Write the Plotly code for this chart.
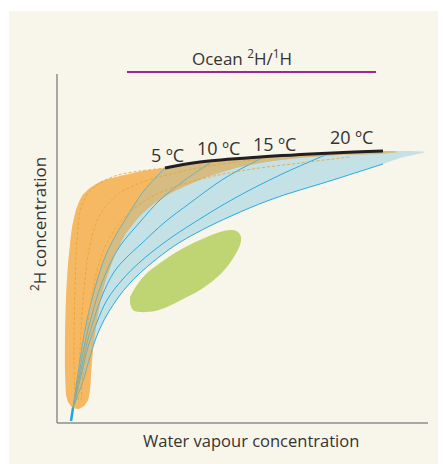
import plotly.graph_objects as go

# ---- schematic data (arbitrary units: x = water vapour, y = 2H concentration) ----
temp_labels = ["5 ºC", "10 ºC", "15 ºC", "20 ºC"]
temp_x = [110, 161, 217, 294]
temp_y = [268, 275, 279, 286]

black_x = [108, 143, 203, 276, 326]
black_y = [255, 261, 266, 270, 272]

ocean_x = [70, 319]
ocean_y = [351, 351]

b1_x = [16, 20, 25, 30, 38, 46, 56, 68, 86, 108]
b1_y = [15, 43, 76, 103, 135, 161, 183, 203, 231, 255]
b2_x = [16, 21, 27, 33, 41, 51, 63, 83, 103, 128, 153]
b2_y = [15, 43, 76, 101, 129, 155, 177, 201, 223, 243, 260]
b3_x = [16, 22, 29, 36, 45, 57, 69, 83, 108, 133, 168, 205]
b3_y = [15, 43, 76, 101, 127, 151, 165, 178, 201, 220, 245, 265]
b4_x = [16, 23, 31, 40, 50, 65, 83, 108, 138, 178, 223, 273]
b4_y = [15, 43, 76, 101, 123, 143, 161, 181, 201, 225, 248, 270]
b5_x = [16, 21, 27, 33, 39, 51, 73, 110, 143, 210, 276, 326]
b5_y = [15, 28, 45, 66, 85, 110, 140, 172, 192, 222, 243, 259]

tip_x = [350, 368, 343]
tip_y = [272, 271, 265]

orange_x = [9, 8, 8, 9, 11, 13, 15, 19, 25, 33, 45, 63, 86, 108, 143, 203, 276, 326, 336, 340,
            323, 283, 243, 216, 183, 150, 116, 98, 83, 68, 56, 46, 40, 36, 34, 33, 31, 27, 21, 15, 11]
orange_y = [28, 53, 83, 123, 158, 178, 195, 213, 227, 235, 242, 247, 252, 255, 261, 266, 270, 272, 272, 271,
            269, 268, 265, 262, 256, 246, 231, 220, 207, 188, 163, 133, 103, 73, 48, 33, 23, 17, 14, 16, 21]

o1_x = [18, 17, 18, 20, 25, 36, 58, 83, 108]
o1_y = [23, 73, 133, 183, 218, 235, 247, 252, 255]
o2_x = [21, 23, 27, 33, 43, 60, 83, 113, 153, 203]
o2_y = [23, 73, 133, 178, 208, 228, 240, 249, 257, 264]
o3_x = [24, 28, 35, 43, 56, 73, 98, 133, 183, 243, 293]
o3_y = [23, 73, 128, 163, 191, 211, 228, 241, 252, 260, 266]

stem_x = [16, 14]
stem_y = [15, 2]

green_x = [73, 76, 83, 98, 110, 128, 143, 158, 170, 178, 183, 184, 181, 175, 163, 143, 123, 103, 88, 78, 73]
green_y = [120, 113, 111, 112, 116, 125, 133, 144, 156, 168, 178, 186, 191, 193, 191, 183, 173, 160, 148, 135, 126]

axis_len_x = 371
axis_len_y = 349

ORANGE = "#F5B963"
BLUE_LINE = "#29ABE2"
TEXT = "#333333"
FONT = "Open Sans"

X_RANGE = [-10, 383]
Y_RANGE = [-11, 393]

fig = go.Figure()

# orange region
fig.add_trace(go.Scatter(x=orange_x, y=orange_y, fill="toself", fillcolor=ORANGE,
                         mode="lines", line=dict(width=0, shape="spline", smoothing=0.6),
                         hoverinfo="skip"))

# blue region
blue_x = b1_x + black_x[1:] + tip_x + b5_x[::-1]
blue_y = b1_y + black_y[1:] + tip_y + b5_y[::-1]
fig.add_trace(go.Scatter(x=blue_x, y=blue_y, fill="toself", fillcolor="rgba(118,198,222,0.4)",
                         mode="lines", line=dict(width=0, shape="spline", smoothing=0.6),
                         hoverinfo="skip"))

# green blob
fig.add_trace(go.Scatter(x=green_x, y=green_y, fill="toself", fillcolor="#BFD574",
                         mode="lines", line=dict(width=0, shape="spline", smoothing=1),
                         hoverinfo="skip"))

# blue lines
for bx, by in [(b1_x, b1_y), (b2_x, b2_y), (b3_x, b3_y), (b4_x, b4_y), (b5_x, b5_y)]:
    fig.add_trace(go.Scatter(x=bx, y=by, mode="lines",
                             line=dict(color=BLUE_LINE, width=1, shape="spline"),
                             hoverinfo="skip"))
fig.add_trace(go.Scatter(x=stem_x, y=stem_y, mode="lines",
                         line=dict(color="#1FA8E0", width=2.5), hoverinfo="skip"))

# translucent orange veil over the overlap
fig.add_trace(go.Scatter(x=orange_x, y=orange_y, fill="toself", fillcolor="rgba(245,185,99,0.35)",
                         mode="lines", line=dict(width=0, shape="spline", smoothing=0.6),
                         hoverinfo="skip"))

# thin orange lines
for ox, oy in [(o1_x, o1_y), (o2_x, o2_y), (o3_x, o3_y)]:
    fig.add_trace(go.Scatter(x=ox, y=oy, mode="lines",
                             line=dict(color="#EE9F2E", width=0.8, dash="3px,2px", shape="spline"),
                             hoverinfo="skip"))

# black equilibrium line
fig.add_trace(go.Scatter(x=black_x, y=black_y, mode="lines",
                         line=dict(color="#231F20", width=3, shape="spline"), hoverinfo="skip"))

# ocean line
fig.add_trace(go.Scatter(x=ocean_x, y=ocean_y, mode="lines",
                         line=dict(color="#A0278F", width=2), hoverinfo="skip"))

# axes
fig.add_trace(go.Scatter(x=[0, 0], y=[0, axis_len_y], mode="lines",
                         line=dict(color="#8C8C8C", width=1.5), hoverinfo="skip"))
fig.add_trace(go.Scatter(x=[0, axis_len_x], y=[0, 0], mode="lines",
                         line=dict(color="#8C8C8C", width=1.5), hoverinfo="skip"))


def px(x):
    return (x - X_RANGE[0]) / (X_RANGE[1] - X_RANGE[0])


def py(y):
    return (y - Y_RANGE[0]) / (Y_RANGE[1] - Y_RANGE[0])


annotations = []
for t, x, y in zip(temp_labels, temp_x, temp_y):
    annotations.append(dict(x=x, y=y, text=t, showarrow=False, xref="x", yref="y",
                            xanchor="center", yanchor="middle",
                            font=dict(family=FONT, size=18, color=TEXT)))
annotations.append(dict(x=185, y=366, text="Ocean <sup>2</sup>H/<sup>1</sup>H", showarrow=False,
                        xref="x", yref="y", xanchor="center", yanchor="middle",
                        font=dict(family=FONT, size=17, color=TEXT)))
annotations.append(dict(x=px(194), y=py(-17), text="Water vapour concentration", showarrow=False,
                        xref="paper", yref="paper", xanchor="center", yanchor="middle",
                        font=dict(family=FONT, size=16.5, color=TEXT)))
annotations.append(dict(x=px(-19), y=py(199), text="<sup>2</sup>H concentration", showarrow=False,
                        textangle=-90, xref="paper", yref="paper", xanchor="center", yanchor="middle",
                        font=dict(family=FONT, size=17, color=TEXT)))

W, H = 446, 464
OFF = 8  # page body offset
pw, ph = 393, 404
ml, mt = 47 - OFF, 30 - OFF
mr, mb = W - ml - pw, H - mt - ph

fig.update_layout(
    width=W, height=H,
    margin=dict(l=ml, r=mr, t=mt, b=mb),
    paper_bgcolor="white",
    plot_bgcolor="rgba(0,0,0,0)",
    showlegend=False,
    xaxis=dict(range=X_RANGE, visible=False, fixedrange=True),
    yaxis=dict(range=Y_RANGE, visible=False, fixedrange=True),
    annotations=annotations,
    shapes=[dict(type="rect", xref="paper", yref="paper",
                 x0=(9 - OFF - ml) / pw, x1=(W - ml) / pw,
                 y0=-mb / ph, y1=(H - mb - (11 - OFF)) / ph,
                 fillcolor="#F8F5EA", line=dict(width=0), layer="below")],
)

fig.write_html("out.html")
